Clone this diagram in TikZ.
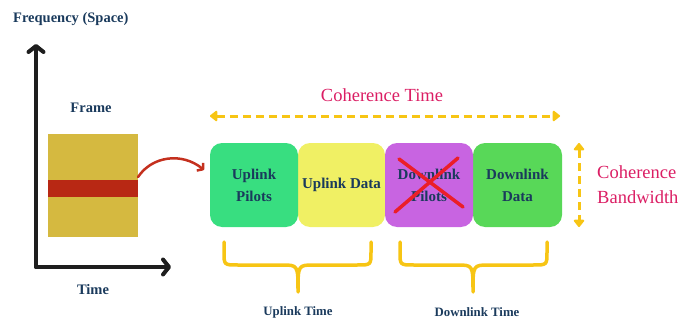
\documentclass[tikz,border=0pt]{standalone}
\usepackage{fontspec}
\setmainfont{Liberation Serif}
\usetikzlibrary{arrows.meta}
\definecolor{navy}{RGB}{26,58,92}
\definecolor{pinktxt}{RGB}{219,30,100}
\definecolor{gold}{RGB}{247,197,20}
\definecolor{mustard}{RGB}{213,185,64}
\definecolor{bandred}{RGB}{184,40,20}
\definecolor{arrred}{RGB}{196,48,30}
\definecolor{upgreen}{RGB}{56,222,128}
\definecolor{upyellow}{RGB}{240,240,100}
\definecolor{dnpurple}{RGB}{200,100,225}
\definecolor{dngreen}{RGB}{88,216,88}
\definecolor{crossred}{RGB}{235,30,40}
\definecolor{axisblack}{RGB}{30,30,30}
\tikzset{
  lbl/.style={text=navy, font=\bfseries\fontsize{14.5}{17}\selectfont, inner sep=0pt},
  smalllbl/.style={text=navy, font=\bfseries\fontsize{12.8}{15}\selectfont, inner sep=0pt},
  pinklbl/.style={text=pinktxt, font=\fontsize{18.5}{25}\selectfont, inner sep=0pt},
  slot/.style={rounded corners=12pt, minimum height=84pt, inner sep=0pt,
    text=navy, align=center, font=\bfseries\fontsize{15}{22}\selectfont},
  axis/.style={draw=axisblack, line width=4pt, line cap=round, line join=round,
    -{Straight Barb[length=6pt,width=15pt,line cap=round,line join=round]}},
  span/.style={draw=gold, line width=3pt, dash pattern=on 8.5pt off 4.5pt,
    {Triangle[length=8pt,width=12pt,round]}-{Triangle[length=8pt,width=12pt,round]}},
  brace/.style={draw=gold, line width=3.5pt, line cap=round, line join=round},
}
\begin{document}
\begin{tikzpicture}[x=1pt,y=-1pt]
\useasboundingbox (0,0) rectangle (683,321);

% axes of the time-frequency plane
\coordinate (origin) at (36,267);
\coordinate (ftop) at (36,44);
\coordinate (tright) at (171,267);
\draw[axis] (origin) -- (ftop);
\draw[axis] (origin) -- (tright);
\node[lbl, anchor=west] (freq) at (13,19) {Frequency (Space)};
\node[lbl] (time) at (93,290) {Time};

% frame with the highlighted slot
\node[lbl] (framelbl) at (91,108) {Frame};
\fill[mustard] (48,134) rectangle (138,237);
\fill[bandred] (48,180) rectangle (138,197);
\coordinate (frameout) at (138,177);
\coordinate (slotin) at (204,170);
\draw[arrred, line width=2.5pt, line cap=round,
  -{Straight Barb[length=4pt,width=10pt,line join=round]}]
  (frameout) .. controls (152,156) and (182,152) .. (slotin);

% slots of one coherence block
\node[slot, fill=upyellow, minimum width=87pt] (uld) at (341.5,185) {Uplink Data};
\node[slot, fill=upgreen, minimum width=88pt] (ulp) at (254,185) {Uplink\\Pilots};
\node[slot, fill=dngreen, minimum width=89pt] (dld) at (517.5,185) {Downlink\\Data};
\node[slot, fill=dnpurple, minimum width=88pt] (dlp) at (429,185) {Downlink\\Pilots};

% downlink pilots are crossed out
\draw[crossred, line width=3.5pt, line cap=round] (399,159) -- (463,207);
\draw[crossred, line width=3.5pt, line cap=round] (395,212) -- (458,158);

% coherence time and bandwidth
\node[pinklbl] (ctime) at (382,95) {Coherence Time};
\coordinate (ctl) at (210,116);
\coordinate (ctr) at (560,116);
\draw[span] (ctl) -- (ctr);
\coordinate (cbt) at (579,143);
\coordinate (cbb) at (579,227);
\draw[span] (cbt) -- (cbb);
\node[pinklbl, anchor=west, align=left] (cbw) at (597,185) {Coherence\\Bandwidth};

% braces for uplink and downlink time
\draw[brace] (224,242) -- (224,252) .. controls (224,265) .. (238,265) -- (282,265)
  .. controls (298,265) .. (298,292) .. controls (298,265) .. (314,265) -- (357,265)
  .. controls (371,265) .. (371,252) -- (371,242);
\draw[brace] (400,242) -- (400,252) .. controls (400,265) .. (414,265) -- (457,265)
  .. controls (473,265) .. (473,292) .. controls (473,265) .. (489,265) -- (533,265)
  .. controls (547,265) .. (547,252) -- (547,242);
\node[smalllbl] (ultime) at (298,312) {Uplink Time};
\node[smalllbl] (dltime) at (477,312) {Downlink Time};
\end{tikzpicture}
\end{document}
